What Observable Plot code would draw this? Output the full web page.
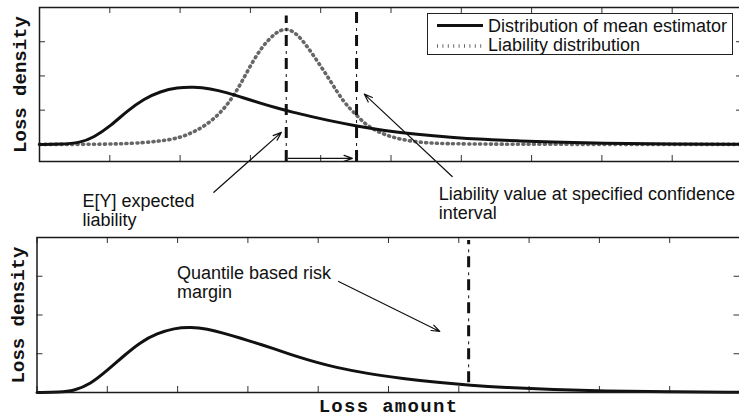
<!DOCTYPE html>
<html><head><meta charset="utf-8">
<script src="https://cdn.jsdelivr.net/npm/d3@7"></script>
<script src="https://cdn.jsdelivr.net/npm/@observablehq/plot@0.6"></script>
<style>
body{margin:0;background:#fff;}
#wrap{position:relative;width:739px;height:416px;overflow:hidden;background:#fff;}
#wrap > svg{position:absolute;left:0;}
#legend{position:absolute;left:427px;top:13px;width:304px;height:40px;border:1px solid #222;background:#fff;font-family:"Liberation Sans",Arial,Helvetica,sans-serif;font-size:18px;color:#111;}
#legend .t{position:absolute;left:60px;line-height:16px;white-space:nowrap;}
</style></head><body><div id="wrap"></div>
<script>
// ---- data ----
const xTicks = [0, 1, 2, 3, 4, 5, 6, 7, 8, 9, 10];
const yTicksTop = [0, 0.2, 0.4, 0.6];
const yTicksBottom = [0.2, 0.4, 0.6];

// top panel: distribution of mean estimator (solid)
const meanX = [0, 0.3, 0.58, 0.77, 1.01, 1.25, 1.48, 1.72, 1.96, 2.19, 2.43, 2.67, 2.91, 3.14, 3.38, 3.62, 3.83, 4.19, 4.5, 4.9, 5.37, 5.85, 6.32, 6.8, 7.25, 8, 9, 10];
const meanY = [0, 0, 0.01, 0.04, 0.108, 0.196, 0.265, 0.31, 0.332, 0.336, 0.326, 0.302, 0.271, 0.241, 0.212, 0.186, 0.166, 0.133, 0.108, 0.081, 0.058, 0.041, 0.029, 0.021, 0.014, 0.007, 0.002, 0];
// top panel: liability distribution (dotted)
const liabX = [0, 1.25, 1.72, 1.96, 2.19, 2.43, 2.67, 2.86, 3.05, 3.24, 3.47, 3.67, 3.9, 4.14, 4.33, 4.5, 4.66, 4.9, 5.14, 5.47, 6, 10];
const liabY = [0, 0, 0.02, 0.034, 0.07, 0.128, 0.225, 0.35, 0.5, 0.61, 0.69, 0.65, 0.52, 0.37, 0.243, 0.176, 0.106, 0.057, 0.028, 0.008, 0, 0];
// bottom panel: distribution of mean estimator
const botX = [0, 0.33, 0.52, 0.76, 1.0, 1.24, 1.47, 1.71, 1.95, 2.19, 2.42, 2.66, 2.9, 3.13, 3.37, 3.58, 3.75, 4.0, 4.22, 4.7, 5.21, 5.7, 6.17, 6.64, 7.35, 8.06, 9.0, 10];
const botY = [0, 0.001, 0.008, 0.043, 0.114, 0.191, 0.26, 0.305, 0.332, 0.338, 0.328, 0.306, 0.28, 0.254, 0.226, 0.2, 0.18, 0.153, 0.132, 0.097, 0.072, 0.052, 0.037, 0.026, 0.015, 0.008, 0.003, 0.001];

// reference lines
const expectedLiability = 3.51;
const confidenceValue = 4.51;
const quantileValue = 6.14;

// annotations
const topLabels = ["E[Y] expected\nliability", "Liability value at specified confidence\ninterval"];
const topLabelX = [0.61, 5.68];
const topLabelY = [-0.288, -0.247];
const topArrowX1 = [2.48, 5.87, 3.54];
const topArrowY1 = [-0.28, -0.188, -0.082];
const topArrowX2 = [3.44, 4.62, 4.45];
const topArrowY2 = [0.07, 0.294, -0.082];
const botLabels = ["Quantile based risk\nmargin"];
const botLabelX = [1.99];
const botLabelY = [0.655];
const botArrowX1 = [4.29];
const botArrowY1 = [0.573];
const botArrowX2 = [5.73];
const botArrowY2 = [0.315];

const legendLabels = ["Distribution of mean estimator", "Liability distribution"];
const xLabel = "Loss amount";
const yLabel = "Loss density";

// ---- build ----
const SANS = '"Liberation Sans", Arial, Helvetica, sans-serif';
const MONO = '"Liberation Mono", "Courier New", monospace';
const INK = "#111";
const DOT = {stroke: "#666", strokeWidth: 3.6, strokeDasharray: "1,4.4"};

const meanData = meanX.map((x, i) => ({x, y: meanY[i]}));
const liabData = liabX.map((x, i) => ({x, y: liabY[i]}));
const botData = botX.map((x, i) => ({x, y: botY[i]}));
const topText = topLabels.map((t, i) => ({t, x: topLabelX[i], y: topLabelY[i]}));
const topArrows = topArrowX1.map((x1, i) => ({x1, y1: topArrowY1[i], x2: topArrowX2[i], y2: topArrowY2[i]}));
const botText = botLabels.map((t, i) => ({t, x: botLabelX[i], y: botLabelY[i]}));
const botArrows = botArrowX1.map((x1, i) => ({x1, y1: botArrowY1[i], x2: botArrowX2[i], y2: botArrowY2[i]}));

function boxTicks(yTicks, fw, fh) {
  return [
    Plot.tickX(xTicks, {x: d => d, insetTop: fh - 6, stroke: "#333", strokeWidth: 1}),
    Plot.tickX(xTicks, {x: d => d, insetBottom: fh - 6, stroke: "#333", strokeWidth: 1}),
    Plot.tickY(yTicks, {y: d => d, insetRight: fw - 6, stroke: "#333", strokeWidth: 1}),
    Plot.tickY(yTicks, {y: d => d, insetLeft: fw - 6, stroke: "#333", strokeWidth: 1})
  ];
}
function dashDot(data, opts) {
  return [
    Plot.ruleX(data, {...opts, stroke: INK, strokeWidth: 3, strokeDasharray: "11,12"}),
    Plot.ruleX(data, {...opts, stroke: INK, strokeWidth: 1, strokeDasharray: "3,20", strokeDashoffset: -15})
  ];
}
function yAxisLabel() {
  return Plot.text([yLabel], {text: d => d, frameAnchor: "left", dx: -19.5, rotate: -90,
    textAnchor: "middle", lineAnchor: "middle",
    fontFamily: MONO, fontWeight: "bold", fontSize: 19, fill: INK});
}

// top panel
const T = {w: 739, h: 230, ml: 39, mr: -3, mt: 7, mb: 69};
const topPlot = Plot.plot({
  width: T.w, height: T.h,
  marginLeft: T.ml, marginRight: T.mr, marginTop: T.mt, marginBottom: T.mb,
  x: {domain: [0, 10], axis: null},
  y: {domain: [-0.1, 0.8], axis: null},
  style: {fontFamily: SANS, fontSize: "18px", background: "transparent"},
  marks: [
    ...boxTicks(yTicksTop, T.w - T.ml - T.mr, T.h - T.mt - T.mb),
    Plot.line(liabData, {x: "x", y: "y", ...DOT, curve: "basis"}),
    Plot.line(meanData, {x: "x", y: "y", stroke: INK, strokeWidth: 3, curve: "basis"}),
    ...dashDot([expectedLiability], {x: d => d, y1: -0.1, y2: 0.75}),
    ...dashDot([confidenceValue], {x: d => d, y1: -0.1, y2: 0.8}),
    Plot.arrow(topArrows, {x1: "x1", y1: "y1", x2: "x2", y2: "y2", stroke: INK, strokeWidth: 1.2, headLength: 11, headAngle: 40}),
    Plot.text(topText, {x: "x", y: "y", text: "t", textAnchor: "start", lineAnchor: "top", lineHeight: 1.06, fill: INK, fontSize: 18}),
    Plot.frame({stroke: "#1a1a1a", strokeWidth: 1.5}),
    yAxisLabel()
  ]
});
topPlot.style.top = "0px";

// bottom panel
const B = {w: 739, h: 186, ml: 36.5, mr: -0.5, mt: 7, mb: 24};
const botPlot = Plot.plot({
  width: B.w, height: B.h,
  marginLeft: B.ml, marginRight: B.mr, marginTop: B.mt, marginBottom: B.mb,
  x: {domain: [0, 10], axis: null},
  y: {domain: [0, 0.8], axis: null},
  style: {fontFamily: SANS, fontSize: "18px", background: "transparent"},
  marks: [
    ...boxTicks(yTicksBottom, B.w - B.ml - B.mr, B.h - B.mt - B.mb),
    Plot.line(botData, {x: "x", y: "y", stroke: INK, strokeWidth: 3, curve: "basis"}),
    ...dashDot([quantileValue], {x: d => d, y1: 0.05, y2: 0.785}),
    Plot.arrow(botArrows, {x1: "x1", y1: "y1", x2: "x2", y2: "y2", stroke: INK, strokeWidth: 1.2, headLength: 11, headAngle: 40}),
    Plot.text(botText, {x: "x", y: "y", text: "t", textAnchor: "start", lineAnchor: "top", lineHeight: 1.06, fill: INK, fontSize: 18}),
    Plot.frame({stroke: "#1a1a1a", strokeWidth: 1.5}),
    yAxisLabel(),
    Plot.text([xLabel], {text: d => d, frameAnchor: "bottom", dy: 19, textAnchor: "middle", lineAnchor: "bottom",
      fontFamily: MONO, fontWeight: "bold", fontSize: 19, fill: INK})
  ]
});
botPlot.style.top = "230px";
d3.select(botPlot).selectAll("text").filter(function() { return this.textContent === xLabel; })
  .style("letter-spacing", "1.3px");

const wrap = document.getElementById("wrap");
wrap.appendChild(topPlot);
wrap.appendChild(botPlot);

// legend
const leg = document.createElement("div");
leg.id = "legend";
leg.innerHTML =
  '<div style="position:absolute;left:9px;top:10px;width:46px;height:3px;background:#111"></div>' +
  '<svg style="position:absolute;left:9px;top:27px" width="46" height="10"><line x1="0" y1="5" x2="46" y2="5" stroke="#666" stroke-width="3.6" stroke-dasharray="1,4.4"/></svg>' +
  '<div class="t" style="top:4px">' + legendLabels[0] + '</div>' +
  '<div class="t" style="top:23px">' + legendLabels[1] + '</div>';
wrap.appendChild(leg);
</script>
</body></html>
